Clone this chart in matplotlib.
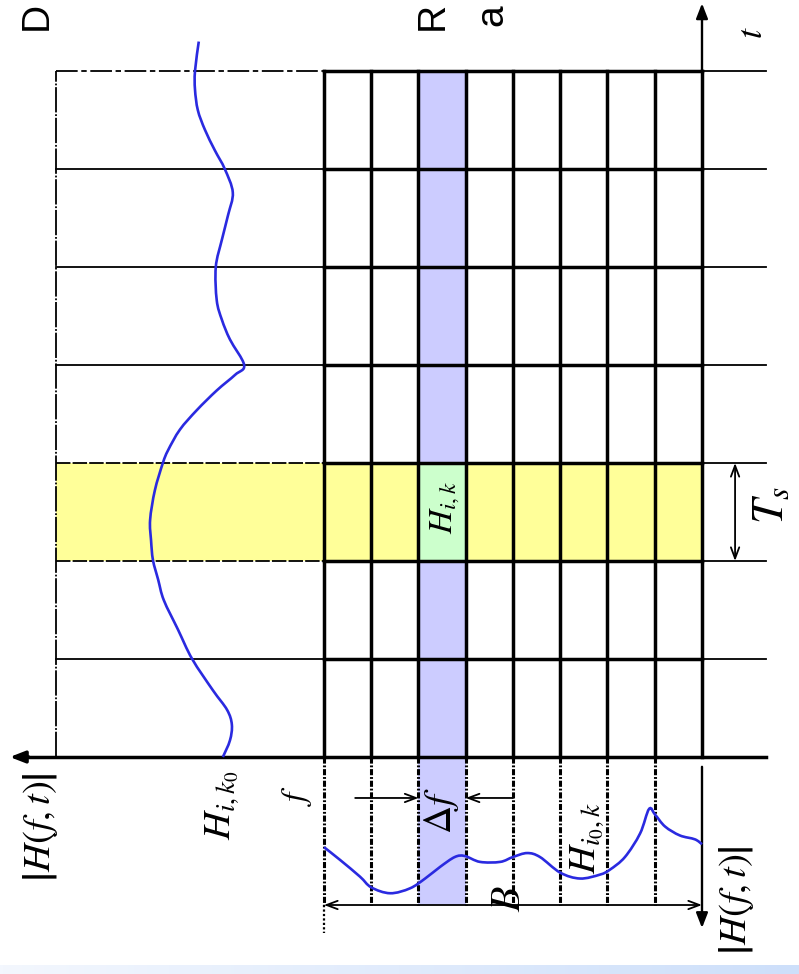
import numpy as np
import matplotlib
matplotlib.use("Agg")
import matplotlib.pyplot as plt
from matplotlib.patches import Rectangle, PathPatch
from matplotlib.path import Path
from matplotlib.colors import LinearSegmentedColormap

plt.rcParams['mathtext.fontset'] = 'stix'
plt.rcParams['font.family'] = ['DejaVu Sans']

# ---------------- data ----------------
n_subcarriers = 8          # columns of the time-frequency grid
n_symbols = 7              # rows of the grid (OFDM symbols)
sel_subcarrier = 2         # highlighted subcarrier i (column from left)
sel_symbol = 2             # highlighted symbol k (row from bottom)

# |H(f_i, t)| versus time (t in symbol durations, magnitude in grid-column units)
t_time = [7.30, 7.00, 6.81, 6.60, 6.40, 6.19, 6.00, 5.76, 5.53, 5.28, 5.00,
          4.66, 4.46, 4.26, 4.00, 3.90, 3.74, 3.54, 3.34, 3.13, 3.00, 2.72,
          2.42, 2.21, 2.01, 1.81, 1.60, 1.30, 1.00, 0.68, 0.48, 0.33, 0.17, 0.00]
mag_time = [2.65, 2.73, 2.73, 2.67, 2.52, 2.31, 2.10, 1.93, 2.03, 2.16, 2.29,
            2.27, 2.16, 1.99, 1.69, 1.88, 2.27, 2.69, 3.05, 3.30, 3.41, 3.58,
            3.68, 3.66, 3.62, 3.51, 3.39, 3.09, 2.79, 2.35, 2.05, 1.95, 1.99, 2.14]

# |H(f, t_k)| versus frequency (f in subcarrier spacings, magnitude in grid-row units)
f_freq = [0.00, 0.34, 0.76, 1.00, 1.40, 1.82, 2.14, 2.46, 2.77, 2.98, 3.30,
          3.73, 4.00, 4.30, 4.57, 5.00, 5.42, 5.84, 6.05, 6.37, 6.69, 6.88,
          7.01, 7.22, 7.53, 7.85, 8.00]
mag_freq = [0.92, 1.05, 1.22, 1.33, 1.39, 1.34, 1.24, 1.12, 1.02, 1.01, 1.07,
            1.07, 1.02, 0.98, 1.02, 1.18, 1.24, 1.20, 1.15, 1.02, 0.78, 0.53,
            0.59, 0.71, 0.80, 0.84, 0.89]

labels = {
    'mag': r'$\left|H(f,t)\right|$',
    'hik0': r'$H_{i,k_0}$',
    'hik': r'$H_{i,k}$',
    'hi0k': r'$H_{i_0,k}$',
    'f': r'$f$',
    'df': r'$\Delta f$',
    'B': r'$B$',
    'Ts': r'$T_s$',
    't': r'$t$',
}
slide_text = ['D', 'R', 'a']

# ---------------- layout ----------------
W, H = 799, 974
fig = plt.figure(figsize=(W / 100, H / 100), dpi=100)
ax = fig.add_axes([0, 0, 1, 1])
ax.set_axis_off()
XL = (-6.857, 10.053)
YL = (-2.214, 7.724)

left_edge = -5.67     # left border of the time-response panel
axis_tip_left = -6.65
right_ext = 9.355
t_tip = 7.69
bot_edge = -1.51
bot_tip = -1.745

BLUE_FILL = '#ccccff'
YELLOW = '#ffff99'
GREEN = '#ccffcc'
CURVE = '#2a2ae0'
THICK = 2.5
THIN = 1.3

ns, nsub = n_symbols, n_subcarriers


def smooth_path(xs, ys):
    """Cubic Bezier path through the given points (Catmull-Rom tangents)."""
    P = np.column_stack([xs, ys]).astype(float)
    n = len(P)
    verts = [P[0]]
    codes = [Path.MOVETO]
    for k in range(n - 1):
        p0 = P[max(k - 1, 0)]
        p1 = P[k]
        p2 = P[k + 1]
        p3 = P[min(k + 2, n - 1)]
        verts += [p1 + (p2 - p0) / 6.0, p2 - (p3 - p1) / 6.0, p2]
        codes += [Path.CURVE4] * 3
    return Path(verts, codes)


# fills
ax.add_patch(Rectangle((sel_subcarrier, bot_edge), 1, ns - bot_edge,
                       facecolor=BLUE_FILL, edgecolor='none', zorder=1))
ax.add_patch(Rectangle((left_edge, sel_symbol), nsub - left_edge, 1,
                       facecolor=YELLOW, edgecolor='none', zorder=1))
ax.add_patch(Rectangle((sel_subcarrier, sel_symbol), 1, 1,
                       facecolor=GREEN, edgecolor='none', zorder=1))

# left panel lines
for j in range(1, ns):
    if j in (sel_symbol, sel_symbol + 1):
        ax.plot([left_edge, 0], [j, j], color='k', lw=THIN,
                ls=(0, (8, 1.2)), zorder=2)
    else:
        ax.plot([left_edge, 0], [j, j], color='k', lw=THIN, zorder=2)
ax.plot([left_edge, 0], [ns, ns], color='k', lw=THIN,
        ls=(0, (12, 2, 3, 2)), zorder=2)
ax.plot([left_edge, left_edge], [0, ns], color='k', lw=THIN,
        ls=(0, (14, 1, 1, 1)), zorder=2)

# right extension lines
for j in range(1, ns + 1):
    ax.plot([nsub, right_ext], [j, j], color='k', lw=THIN, zorder=2)

# main grid
for i in range(nsub + 1):
    ax.plot([i, i], [0, ns], color='k', lw=THICK, zorder=3,
            solid_capstyle='projecting')
for j in range(1, ns + 1):
    ax.plot([0, nsub], [j, j], color='k', lw=THICK, zorder=3,
            solid_capstyle='projecting')

# horizontal magnitude axis (time panel)
ax.plot([axis_tip_left + 0.25, right_ext], [0, 0], color='k', lw=THICK, zorder=3)
ax.annotate('', xy=(axis_tip_left, 0), xytext=(axis_tip_left + 0.4, 0),
            arrowprops=dict(arrowstyle='-|>,head_length=0.9,head_width=0.35',
                            color='k', lw=THICK, shrinkA=0, shrinkB=0), zorder=4)
# t axis
ax.annotate('', xy=(nsub, t_tip), xytext=(nsub, ns),
            arrowprops=dict(arrowstyle='-|>,head_length=0.9,head_width=0.35',
                            color='k', lw=THIN + 0.4, shrinkA=0, shrinkB=0), zorder=4)

# bottom (frequency) panel
for i in range(nsub):
    ax.plot([i, i], [0, bot_edge], color='k', lw=2.2,
            ls=(0, (2.0, 0.6, 0.6, 0.6)), zorder=3)
ax.plot([0, 0], [bot_edge, bot_tip - 0.05], color='k', lw=1.6,
        ls=(0, (1, 1)), zorder=3)
ax.annotate('', xy=(nsub, bot_tip), xytext=(nsub, -0.1),
            arrowprops=dict(arrowstyle='-|>,head_length=0.9,head_width=0.35',
                            color='k', lw=THIN + 0.4, shrinkA=0, shrinkB=0), zorder=4)
# bandwidth B dimension
ax.annotate('', xy=(0, bot_edge), xytext=(nsub, bot_edge),
            arrowprops=dict(arrowstyle='<->,head_length=0.8,head_width=0.3',
                            color='k', lw=THIN, shrinkA=0, shrinkB=0), zorder=4)
# delta f dimension
df_y = -0.418
ax.annotate('', xy=(sel_subcarrier, df_y), xytext=(0.66, df_y),
            arrowprops=dict(arrowstyle='->,head_length=0.8,head_width=0.3',
                            color='k', lw=THIN, shrinkA=0, shrinkB=0), zorder=4)
ax.annotate('', xy=(sel_subcarrier + 1, df_y), xytext=(sel_subcarrier + 2, df_y),
            arrowprops=dict(arrowstyle='->,head_length=0.8,head_width=0.3',
                            color='k', lw=THIN, shrinkA=0, shrinkB=0), zorder=4)
# Ts dimension
ax.annotate('', xy=(8.70, sel_symbol), xytext=(8.70, sel_symbol + 1),
            arrowprops=dict(arrowstyle='<->,head_length=0.8,head_width=0.3',
                            color='k', lw=THIN, shrinkA=0, shrinkB=0), zorder=4)

# curves (smooth Bezier paths through the read samples)
ax.add_patch(PathPatch(smooth_path(-np.asarray(mag_time), t_time),
                       facecolor='none', edgecolor=CURVE, lw=1.9, zorder=5))
ax.add_patch(PathPatch(smooth_path(f_freq, -np.asarray(mag_freq)),
                       facecolor='none', edgecolor=CURVE, lw=1.9, zorder=5))

# labels
tk = dict(rotation=90, ha='center', va='center', color='k', zorder=6)
ax.text(-6.01, -0.72, labels['mag'], fontsize=28, **tk)
ax.text(8.74, -1.46, labels['mag'], fontsize=28, **tk)
ax.text(-2.16, -0.49, labels['hik0'], fontsize=28, **tk)
ax.text(2.56, 2.54, labels['hik'], fontsize=24, **tk)
ax.text(5.57, -0.83, labels['hi0k'], fontsize=28, **tk)
ax.text(-0.57, -0.39, labels['f'], fontsize=24, **tk)
ax.text(2.48, -0.55, labels['df'], fontsize=28, **tk)
ax.text(3.89, -1.44, labels['B'], fontsize=30, **tk)
ax.text(9.44, 2.57, labels['Ts'], fontsize=32, **tk)
ax.text(9.06, 7.39, labels['t'], fontsize=26, **tk)

# slide text fragments at the top (kept fully inside the frame)
sk = dict(rotation=90, rotation_mode='anchor', ha='left', va='baseline',
          fontsize=28, family=['Liberation Sans', 'DejaVu Sans'], color='k')
ax.text((47 - 324) / 47.25, (757 - 30) / 98, slide_text[0], **sk)
ax.text((443 - 324) / 47.25, (757 - 30) / 98, slide_text[1], **sk)
ax.text((502 - 324) / 47.25, (757 - 26) / 98, slide_text[2], **sk)

# bottom gradient strip
grad = np.linspace(0, 1, 256).reshape(1, -1)
cm = LinearSegmentedColormap.from_list('strip', ['#f3f7fe', '#cddffa'])
ax.imshow(grad, cmap=cm, aspect='auto',
          extent=(XL[0], XL[1], YL[0], (757 - 965) / 98), zorder=0)

ax.set_xlim(*XL)
ax.set_ylim(*YL)
fig.savefig('out.png', dpi=100)
